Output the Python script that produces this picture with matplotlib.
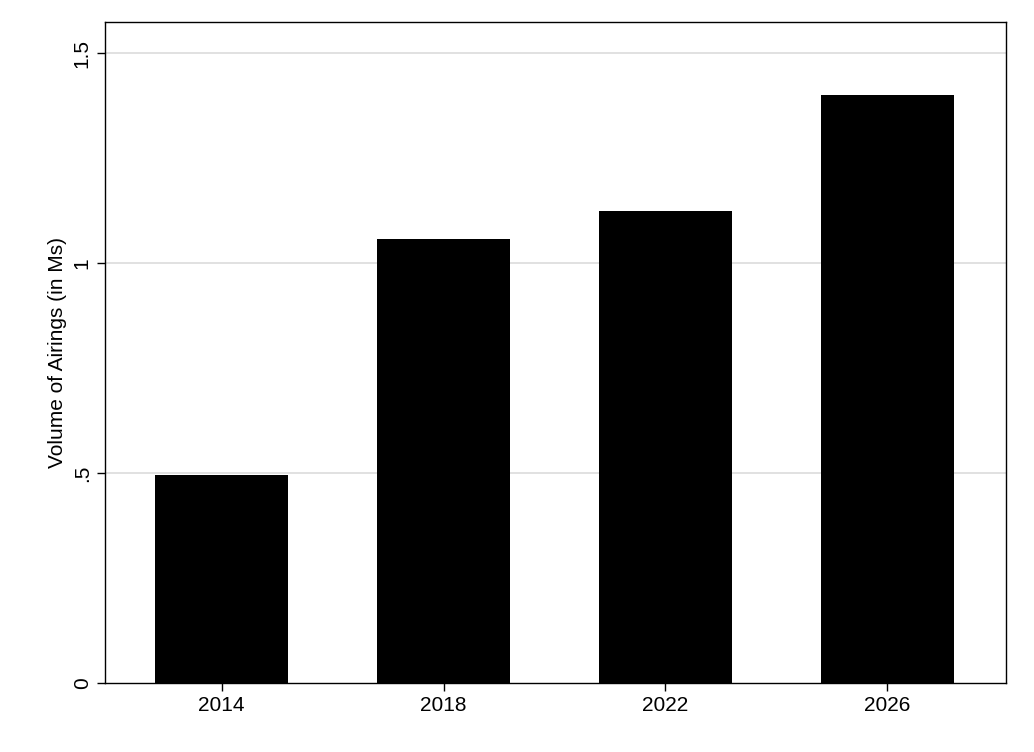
import matplotlib
matplotlib.use("Agg")
import matplotlib.pyplot as plt

years = ["2014", "2018", "2022", "2026"]
values = [0.495, 1.057, 1.124, 1.40]
yticks = [0, 0.5, 1, 1.5]
ytick_labels = ["0", ".5", "1", "1.5"]

plt.rcParams['font.family'] = ['Liberation Sans', 'DejaVu Sans']
fig = plt.figure(figsize=(10.34, 7.52), dpi=100)
ax = fig.add_axes([105/1034, 1-683/752, (1006-105)/1034, (683-22)/752])
x = list(range(len(years)))
ax.bar(x, values, width=0.6, color='black', zorder=3)
ax.set_xlim(-0.525, 3.534)
ax.set_ylim(0, 1.574)
ax.set_xticks(x)
ax.set_xticklabels(years, fontsize=15)
ax.set_yticks(yticks)
ax.set_yticklabels(ytick_labels, fontsize=15, rotation=90, va='center')
for v in yticks[1:]:
    ax.axhline(v, color='#dcdcdc', lw=1.2, zorder=1)
ax.set_ylabel("Volume of Airings (in Ms)", fontsize=15)
for s in ax.spines.values():
    s.set_color('black'); s.set_linewidth(1)
ax.tick_params(length=6, width=1)
fig.savefig("out.png", dpi=100)
